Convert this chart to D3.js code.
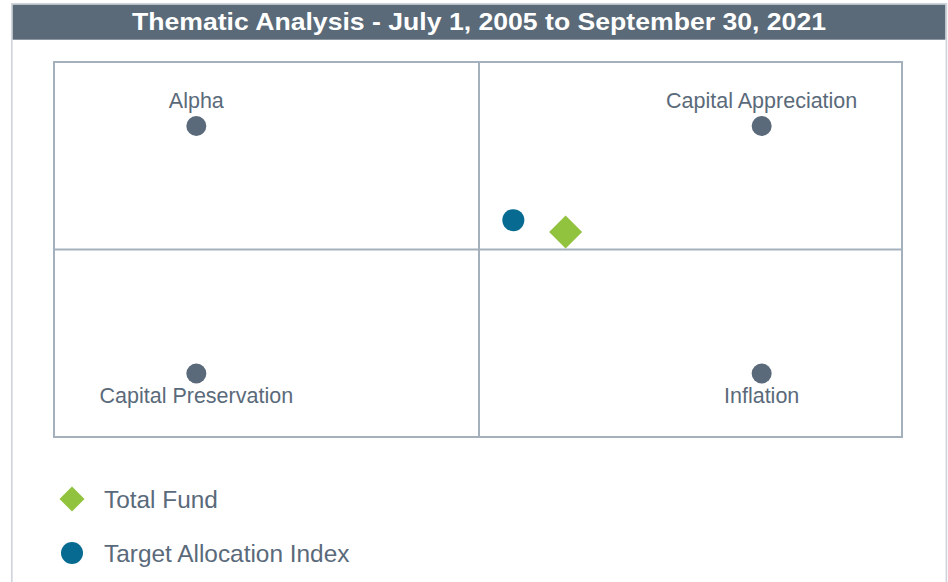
<!DOCTYPE html>
<html>
<head>
<meta charset="utf-8">
<script src="https://cdn.jsdelivr.net/npm/d3@7"></script>
<style>
  html, body { margin: 0; padding: 0; background: #ffffff; }
  svg { display: block; }
</style>
</head>
<body>
<svg id="chart" width="948" height="582"></svg>
<script>
// ---- data ----
const title = "Thematic Analysis - July 1, 2005 to September 30, 2021";
const themeNames = ["Alpha", "Capital Appreciation", "Capital Preservation", "Inflation"];
const themeX = [-2, 2, -2, 2];
const themeY = [2, 2, -2, -2];
const seriesNames = ["Total Fund", "Target Allocation Index"];
const seriesX = [0.62, 0.25];
const seriesY = [0.28, 0.47];
const axisDomain = [-3, 3];

// ---- layout / style ----
const svg = d3.select("#chart");
const W = 948, H = 582;
const box = { left: 54, right: 902, top: 62, bottom: 437 };
const textColor = "#5a6a7a";
const dotColor = "#5a6a7a";
const lineColor = "#a4b1bd";
const colors = { "Total Fund": "#92c33e", "Target Allocation Index": "#066a91" };
const font = "'Liberation Sans', Arial, Helvetica, sans-serif";

const x = d3.scaleLinear().domain(axisDomain).range([box.left, box.right]);
const y = d3.scaleLinear().domain(axisDomain).range([box.bottom, box.top]);

// outer frame
svg.append("rect")
  .attr("x", 11.8).attr("y", 3.8)
  .attr("width", 946.4 - 11.8).attr("height", H + 10)
  .attr("fill", "none").attr("stroke", "#d0d5dd").attr("stroke-width", 1.7);

// title bar
svg.append("rect")
  .attr("x", 12.7).attr("y", 4.7)
  .attr("width", 945.3 - 12.7).attr("height", 39.7 - 4.7)
  .attr("fill", "#5a6a79");
svg.append("text")
  .attr("x", 479).attr("y", 29.5)
  .attr("text-anchor", "middle")
  .attr("font-family", font).attr("font-weight", "bold").attr("font-size", 24)
  .attr("textLength", 694).attr("lengthAdjust", "spacingAndGlyphs")
  .attr("fill", "#ffffff")
  .text(title);

// quadrant box
const g = svg.append("g");
g.append("rect")
  .attr("x", x(axisDomain[0])).attr("y", y(axisDomain[1]))
  .attr("width", x(axisDomain[1]) - x(axisDomain[0]))
  .attr("height", y(axisDomain[0]) - y(axisDomain[1]))
  .attr("fill", "none").attr("stroke", lineColor).attr("stroke-width", 2);
g.append("line")
  .attr("x1", x(0) + 1).attr("x2", x(0) + 1)
  .attr("y1", y(axisDomain[1])).attr("y2", y(axisDomain[0]))
  .attr("stroke", lineColor).attr("stroke-width", 2);
g.append("line")
  .attr("x1", x(axisDomain[0])).attr("x2", x(axisDomain[1]))
  .attr("y1", y(0)).attr("y2", y(0))
  .attr("stroke", lineColor).attr("stroke-width", 2);

// theme anchor points
const themes = themeNames.map((n, i) => ({ name: n, x: themeX[i], y: themeY[i] }));
g.selectAll("circle.theme").data(themes).enter().append("circle")
  .attr("class", "theme")
  .attr("cx", d => x(d.x) + 1)
  .attr("cy", d => y(d.y) + (d.y > 0 ? 1.5 : -1))
  .attr("r", 10)
  .attr("fill", dotColor);
g.selectAll("text.theme").data(themes).enter().append("text")
  .attr("class", "theme")
  .attr("x", d => x(d.x) + 1)
  .attr("y", d => d.y > 0 ? y(d.y) - 17 : y(d.y) + 28.5)
  .attr("text-anchor", "middle")
  .attr("font-family", font).attr("font-size", 21.5)
  .attr("fill", textColor)
  .text(d => d.name);

// series points
const series = seriesNames.map((n, i) => ({ name: n, x: seriesX[i], y: seriesY[i] }));
const diamond = s => `M0,${-s}L${s},0L0,${s}L${-s},0Z`;
series.forEach(d => {
  if (d.name === "Total Fund") {
    g.append("path")
      .attr("d", diamond(16.5))
      .attr("transform", `translate(${x(d.x)},${y(d.y)})`)
      .attr("fill", colors[d.name]);
  } else {
    g.append("circle")
      .attr("cx", x(d.x)).attr("cy", y(d.y)).attr("r", 11)
      .attr("fill", colors[d.name]);
  }
});

// legend
const legend = svg.append("g").attr("transform", "translate(72,499)");
const items = legend.selectAll("g").data(seriesNames).enter().append("g")
  .attr("transform", (d, i) => `translate(0,${i * 54})`);
items.each(function(d) {
  const it = d3.select(this);
  if (d === "Total Fund") {
    it.append("path").attr("d", diamond(12.5)).attr("fill", colors[d]);
  } else {
    it.append("circle").attr("r", 11).attr("fill", colors[d]);
  }
});
items.append("text")
  .attr("x", 32).attr("y", 9)
  .attr("font-family", font).attr("font-size", 24.4)
  .attr("fill", textColor)
  .text(d => d);
</script>
</body>
</html>
